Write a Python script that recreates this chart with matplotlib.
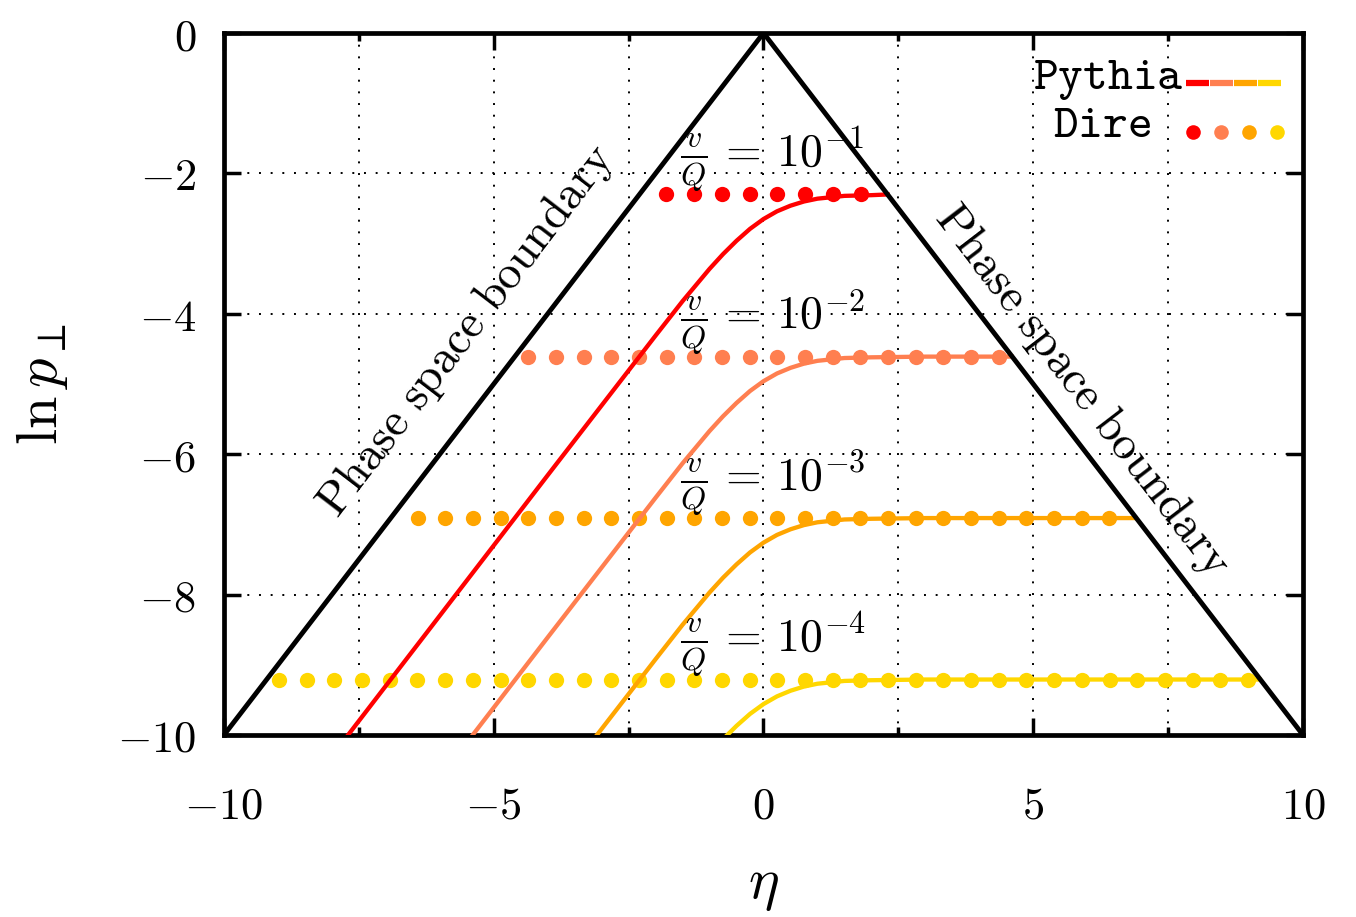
import numpy as np
import matplotlib.pyplot as plt
from matplotlib.ticker import MultipleLocator

plt.rcParams['mathtext.fontset'] = 'cm'

# ln(v/Q) levels for v/Q = 1e-1 ... 1e-4
levels = [-2.30, -4.61, -6.91, -9.21]
level_labels = [r'$\frac{v}{Q}\,=\,10^{-1}$', r'$\frac{v}{Q}\,=\,10^{-2}$',
                r'$\frac{v}{Q}\,=\,10^{-3}$', r'$\frac{v}{Q}\,=\,10^{-4}$']
colors = ['#ff0000', '#ff7f50', '#ffa500', '#ffd700']

# Pythia curves (eta, ln pT)
py1_eta = [-8.2, -6, -4, -2, -1.5, -1.25, -1, -0.75, -0.5, -0.25, 0, 0.25, 0.5, 0.75, 1, 1.25, 1.5, 2, 2.3]
py1_lnpt = [-10.50, -8.30, -6.30, -4.31, -3.82, -3.59, -3.36, -3.15, -2.96, -2.79, -2.65, -2.54, -2.46,
            -2.40, -2.36, -2.34, -2.32, -2.31, -2.30]
py2_eta = [-5.9, -4, -2, -1.5, -1.25, -1, -0.75, -0.5, -0.25, 0, 0.25, 0.5, 0.75, 1, 1.25, 1.5, 2, 3, 4.6]
py2_lnpt = [-10.51, -8.61, -6.62, -6.13, -5.90, -5.67, -5.46, -5.27, -5.10, -4.96, -4.85, -4.77, -4.71,
            -4.67, -4.65, -4.63, -4.62, -4.61, -4.61]
py3_eta = [-3.6, -2, -1.5, -1.25, -1, -0.75, -0.5, -0.25, 0, 0.25, 0.5, 0.75, 1, 1.25, 1.5, 2, 3, 6.9]
py3_lnpt = [-10.51, -8.92, -8.43, -8.20, -7.97, -7.76, -7.57, -7.40, -7.26, -7.15, -7.07, -7.01, -6.97,
            -6.95, -6.93, -6.92, -6.91, -6.91]
py4_eta = [-1.3, -1, -0.75, -0.5, -0.25, 0, 0.25, 0.5, 0.75, 1, 1.25, 1.5, 2, 3, 9.2]
py4_lnpt = [-10.55, -10.27, -10.06, -9.87, -9.70, -9.56, -9.45, -9.37, -9.31, -9.27, -9.25, -9.23,
            -9.22, -9.21, -9.21]
pythia = [(py1_eta, py1_lnpt), (py2_eta, py2_lnpt), (py3_eta, py3_lnpt), (py4_eta, py4_lnpt)]

# Dire: flat rows of points, (first eta, last eta, number of points)
dire_rows = [(-1.80, 1.80, 8), (-4.36, 4.36, 18), (-6.41, 6.41, 26), (-8.98, 8.98, 36)]

# phase space boundary: ln pT = -|eta|
bound_eta = [-10, 0, 10]
bound_lnpt = [-10, 0, -10]

fig = plt.figure(figsize=(13.56, 9.17), dpi=100)
ax = fig.add_axes([0.1652, 0.1985, 0.7957, 0.7655])

for (lo, hi, n), lev, c in zip(dire_rows, levels, colors):
    ax.plot(np.linspace(lo, hi, n), [lev] * n, 'o', color=c, ms=11, mew=0, zorder=2)
for (e, p), c in zip(pythia, colors):
    ax.plot(e, p, '-', color=c, lw=3.1, zorder=3)
ax.plot(bound_eta, bound_lnpt, '-', color='black', lw=3.5, zorder=4, solid_joinstyle='miter')

for lev, lab in zip(levels, level_labels):
    ax.text(-1.55, lev + 0.5, lab, fontsize=33, ha='left', va='center', zorder=5)

ax.text(-5.5, -4.25, r'$\mathrm{Phase\ space\ boundary}$', fontsize=34, rotation=52.5,
        ha='center', va='center', rotation_mode='anchor')
ax.text(5.9, -5.1, r'$\mathrm{Phase\ space\ boundary}$', fontsize=34, rotation=-52.5,
        ha='center', va='center', rotation_mode='anchor')

# hand-made key in the top right corner
ax.text(0.750, 0.920, r'$\mathtt{Pythia}$', transform=ax.transAxes, fontsize=34,
        ha='left', va='baseline')
ax.text(0.768, 0.852, r'$\mathtt{Dire}$', transform=ax.transAxes, fontsize=34,
        ha='left', va='baseline')
seg = 0.0222
for i, c in enumerate(colors):
    x0 = 0.892 + i * seg
    ax.plot([x0, x0 + seg - 0.001], [0.929, 0.929], color=c, lw=4.5, transform=ax.transAxes,
            solid_capstyle='butt', zorder=6)
    ax.plot(0.898 + i * 0.026, 0.859, 'o', color=c, ms=10.5, mew=0, transform=ax.transAxes, zorder=6)

ax.set_xlim(-10, 10)
ax.set_ylim(-10, 0)
ax.xaxis.set_major_locator(MultipleLocator(5))
ax.xaxis.set_minor_locator(MultipleLocator(2.5))
ax.yaxis.set_major_locator(MultipleLocator(2))
ax.tick_params(which='both', direction='in', top=True, right=True, width=2.5)
ax.tick_params(which='major', length=12, labelsize=32)
ax.tick_params(which='minor', length=6)
ax.tick_params(axis='x', pad=36)
ax.tick_params(axis='y', pad=20)
ax.xaxis.set_major_formatter(plt.FuncFormatter(lambda v, _: r'$%d$' % v))
ax.yaxis.set_major_formatter(plt.FuncFormatter(lambda v, _: r'$%d$' % v))

ax.grid(which='both', color='black', linestyle=(0, (1, 5)), lw=1.4)
for s in ax.spines.values():
    s.set_linewidth(3.4)

ax.set_xlabel(r'$\eta$', fontsize=42, labelpad=20)
ax.set_ylabel(r'$\ln p_\perp$', fontsize=42, labelpad=34)

fig.savefig('out.png', dpi=100)
